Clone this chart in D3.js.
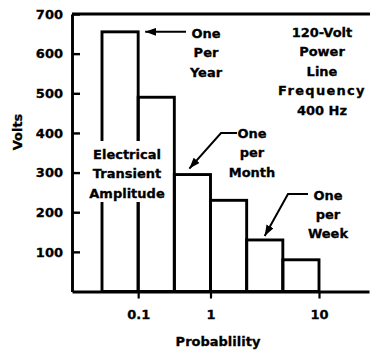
<!DOCTYPE html>
<html>
<head>
<meta charset="utf-8">
<script src="https://cdn.jsdelivr.net/npm/d3@7/dist/d3.min.js"></script>
<style>
  html, body { margin: 0; padding: 0; background: #fff; }
  svg { display: block; }
  text { font-family: "DejaVu Sans", "Liberation Sans", Arial, sans-serif; font-weight: bold; fill: #000; stroke: #000; stroke-width: 0.3px; }
</style>
</head>
<body>
<script>
// ---- data ----
const barLabels = ["b1", "b2", "b3", "b4", "b5", "b6"];
const barValues = [655, 490, 295, 230, 130, 80];
const yTickValues = [100, 200, 300, 400, 500, 600, 700];
const xTickPositions = [1, 3, 6];          // bar-edge index where each label sits
const xTickLabels = ["0.1", "1", "10"];
const yAxisTitle = "Volts";
const xAxisTitle = "Probablility";
const noteYear = ["One", "Per", "Year"];
const noteMonth = ["One", "per", "Month"];
const noteWeek = ["One", "per", "Week"];
const noteSource = ["120-Volt", "Power", "Line", "Frequency", "400 Hz"];
const noteCenter = ["Electrical", "Transient", "Amplitude"];

// ---- layout ----
const W = 370, H = 353;
const svg = d3.select("body").append("svg").attr("width", W).attr("height", H);

const x = d3.scaleLinear().domain([0, barValues.length]).range([102, 319]);
const xAxisScale = x.copy().domain([x.invert(72), x.invert(369)]).range([72, 369]);
const y = d3.scaleLinear().domain([0, 700]).range([291.5, 14]);

const LW = 2.9;

// bars
svg.append("g").selectAll("rect").data(barValues).join("rect")
  .attr("x", (d, i) => x(i))
  .attr("y", d => y(d))
  .attr("width", (d, i) => x(i + 1) - x(i))
  .attr("height", d => y(0) - y(d))
  .attr("fill", "none")
  .attr("stroke", "#000")
  .attr("stroke-width", LW);

// white patch behind centre label
svg.append("rect").attr("x", 90).attr("y", 141).attr("width", 76).attr("height", 61).attr("fill", "#fff");

// top frame line
svg.append("line").attr("x1", 72).attr("x2", 370).attr("y1", y(700)).attr("y2", y(700))
  .attr("stroke", "#000").attr("stroke-width", LW);

// y axis
const gy = svg.append("g").attr("transform", "translate(72,0)")
  .call(d3.axisLeft(y).tickValues(yTickValues).tickSize(-8).tickSizeOuter(0).tickPadding(9));
gy.select(".domain").attr("stroke-width", LW).attr("stroke", "#000");
gy.selectAll(".tick line").attr("stroke-width", 2.4).attr("stroke", "#000");
gy.selectAll(".tick text").style("font-size", "13px").style("font-family", "DejaVu Sans").style("font-weight", "bold").attr("fill", "#000");

// x axis
const gx = svg.append("g").attr("transform", `translate(0,${y(0)})`)
  .call(d3.axisBottom(xAxisScale).tickValues(xTickPositions)
    .tickFormat((d, i) => xTickLabels[i]).tickSize(7).tickSizeOuter(0).tickPadding(11));
gx.select(".domain").attr("stroke-width", LW).attr("stroke", "#000");
gx.selectAll(".tick line").attr("stroke-width", 2.2).attr("stroke", "#000");
gx.selectAll(".tick text").style("font-size", "13px").style("font-family", "DejaVu Sans").style("font-weight", "bold").attr("fill", "#000");

// axis titles
svg.append("text").attr("transform", "translate(17,132) rotate(-90)")
  .attr("text-anchor", "middle").attr("dy", "0.35em").style("font-size", "13px").text(yAxisTitle);
svg.append("text").attr("x", 218).attr("y", 341)
  .attr("text-anchor", "middle").attr("dy", "0.35em").style("font-size", "13px").text(xAxisTitle);

// multi-line notes
function note(lines, cx, cy0, step) {
  return svg.append("g").selectAll("text").data(lines).join("text")
    .attr("x", cx).attr("y", (d, i) => cy0 + i * step)
    .attr("text-anchor", "middle").attr("dy", "0.35em")
    .style("font-size", "13px").text(d => d);
}
note(noteYear, 206, 33, 19.5);
note(noteSource, 322, 32, 19.5).filter(d => d === "Frequency").style("letter-spacing", "1.3px");
note(noteMonth, 252, 133, 19.5);
note(noteWeek, 328, 195, 19);
note(noteCenter, 127, 154, 19.5);

// arrows
const defs = svg.append("defs");
defs.append("marker").attr("id", "ah")
  .attr("viewBox", "0 -4 11 8").attr("refX", 11).attr("refY", 0)
  .attr("markerWidth", 11).attr("markerHeight", 8)
  .attr("markerUnits", "userSpaceOnUse").attr("orient", "auto")
  .append("path").attr("d", "M0,-4L11,0L0,4Z").attr("fill", "#000");

const line = d3.line();
const arrows = [
  [[186, y(barValues[0])], [x(1) + 7, y(barValues[0])]],
  [[237, 133], [221, 133], [x(2) + 15, y(barValues[2]) - 6]],
  [[308, 194], [288, 194], [x(4) + 18, y(barValues[4]) - 4]]
];
svg.append("g").selectAll("path").data(arrows).join("path")
  .attr("d", d => line(d))
  .attr("fill", "none").attr("stroke", "#000").attr("stroke-width", 2)
  .attr("marker-end", "url(#ah)");
</script>
</body>
</html>
